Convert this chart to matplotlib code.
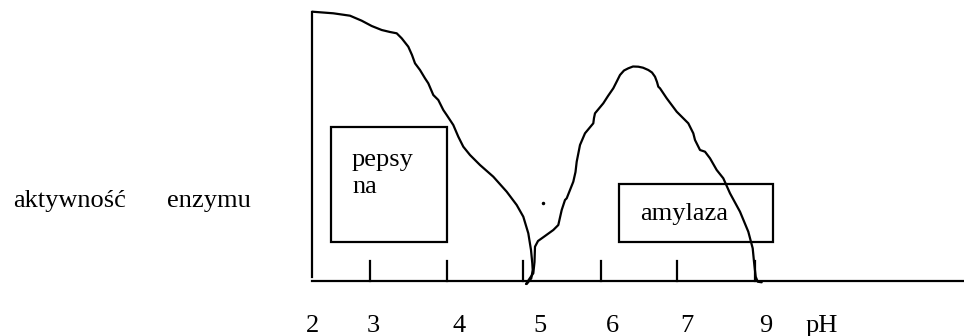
import matplotlib
matplotlib.use("Agg")
import matplotlib.pyplot as plt
from matplotlib.patches import Rectangle

# hand drawn curves (x to the right, y downwards)
pepsyna_x = [312.3, 333.3, 350, 361.7, 371.7, 381.7, 390, 396.7, 401.7, 408.3, 412, 415, 420, 425,
             428.3, 433.3, 438.3, 443.3, 446.7, 453.3, 458.3, 463.3, 470, 480, 493.3,
             506.7, 516.7, 523.3, 528.3, 531, 532.3, 532.7, 531.3, 526.7]
pepsyna_y = [11.7, 13.3, 15.7, 20.7, 26, 30, 32, 33.3, 38.3, 46.7, 55, 63.3, 70, 78.3,
             83.3, 95, 100, 110, 115, 125, 136.7, 146.7, 155, 165, 176.7,
             191.7, 205, 216.7, 233.3, 250, 263.3, 270, 278.3, 284]

amylaza_x = [526, 530, 533.3, 534.5, 535, 538, 545, 553.3, 558.3, 561.7, 565, 566.7, 570, 573.3,
             575.5, 576.7, 580, 585, 593.3, 594, 595, 603.3, 608, 613.3, 617, 620, 624, 628.3,
             633, 638.3, 643, 648.3, 652, 655, 657, 658.3, 660, 666.7, 676.7, 688.3, 693.3, 695,
             700, 705, 710, 716.7, 723.3, 730, 740, 748.3, 752.7, 754, 755.7, 757.7, 761.7]
amylaza_y = [284, 278, 273.3, 262, 246.7, 241, 236, 230, 225, 210, 200, 198.3, 190, 181.7,
             172, 161.7, 145, 133.3, 123.3, 118, 113.3, 103.3, 96, 88.3, 81, 75, 70.5, 68.3,
             66.5, 66.7, 67.7, 70, 72.5, 76.7, 82, 86.7, 88.3, 98.3, 111.7, 123.3, 133.3, 140,
             150, 151.7, 158.3, 170, 178.3, 193.3, 211.7, 231.7, 248.3, 261.7, 276.7, 281.7, 282.3]

tick_x = [370, 446.7, 523, 600.5, 676.7, 754.5]
ph_labels = ["2", "3", "4", "5", "6", "7", "9"]
ph_label_x = [312.5, 373, 459.5, 540, 612.5, 686.7, 766]

plt.rcParams['font.family'] = ['Liberation Serif', 'DejaVu Serif']

fig = plt.figure(figsize=(9.64, 3.36), dpi=100)
ax = fig.add_axes([0, 0, 1, 1])
ax.set_xlim(0, 964)
ax.set_ylim(336, 0)
ax.axis("off")

lw = 1.6
# axes of the sketch
ax.plot([312.3, 312.3], [11.7, 277], color="black", lw=lw)
ax.plot([312, 964], [281, 281], color="black", lw=lw)
for tx in tick_x:
    ax.plot([tx, tx], [261, 281], color="black", lw=lw)

ax.plot(pepsyna_x, pepsyna_y, color="black", lw=lw,
        solid_capstyle="round", solid_joinstyle="round")
ax.plot(amylaza_x, amylaza_y, color="black", lw=lw,
        solid_capstyle="round", solid_joinstyle="round")
ax.plot([543.3], [202.7], marker="o", ms=1.5, color="black")

# boxes with the enzyme names
ax.add_patch(Rectangle((331, 126.7), 115.7, 115, fill=False, lw=lw, ec="black"))
ax.add_patch(Rectangle((619.3, 184), 153.7, 57.7, fill=False, lw=lw, ec="black"))

fs = 19
ax.text(352, 165.7, "pepsy", fontsize=fs, va="baseline")
ax.text(352, 192.7, "na", fontsize=fs, va="baseline")
ax.text(640, 220, "amylaza", fontsize=fs, va="baseline")
ax.text(13, 207.3, "aktywność", fontsize=fs, va="baseline")
ax.text(167, 207.3, "enzymu", fontsize=fs, va="baseline")

for lx, lab in zip(ph_label_x, ph_labels):
    ax.text(lx, 331.7, lab, fontsize=fs, ha="center", va="baseline")
ax.text(806, 331.7, "pH", fontsize=fs, va="baseline")

plt.savefig("out.png", dpi=100)
